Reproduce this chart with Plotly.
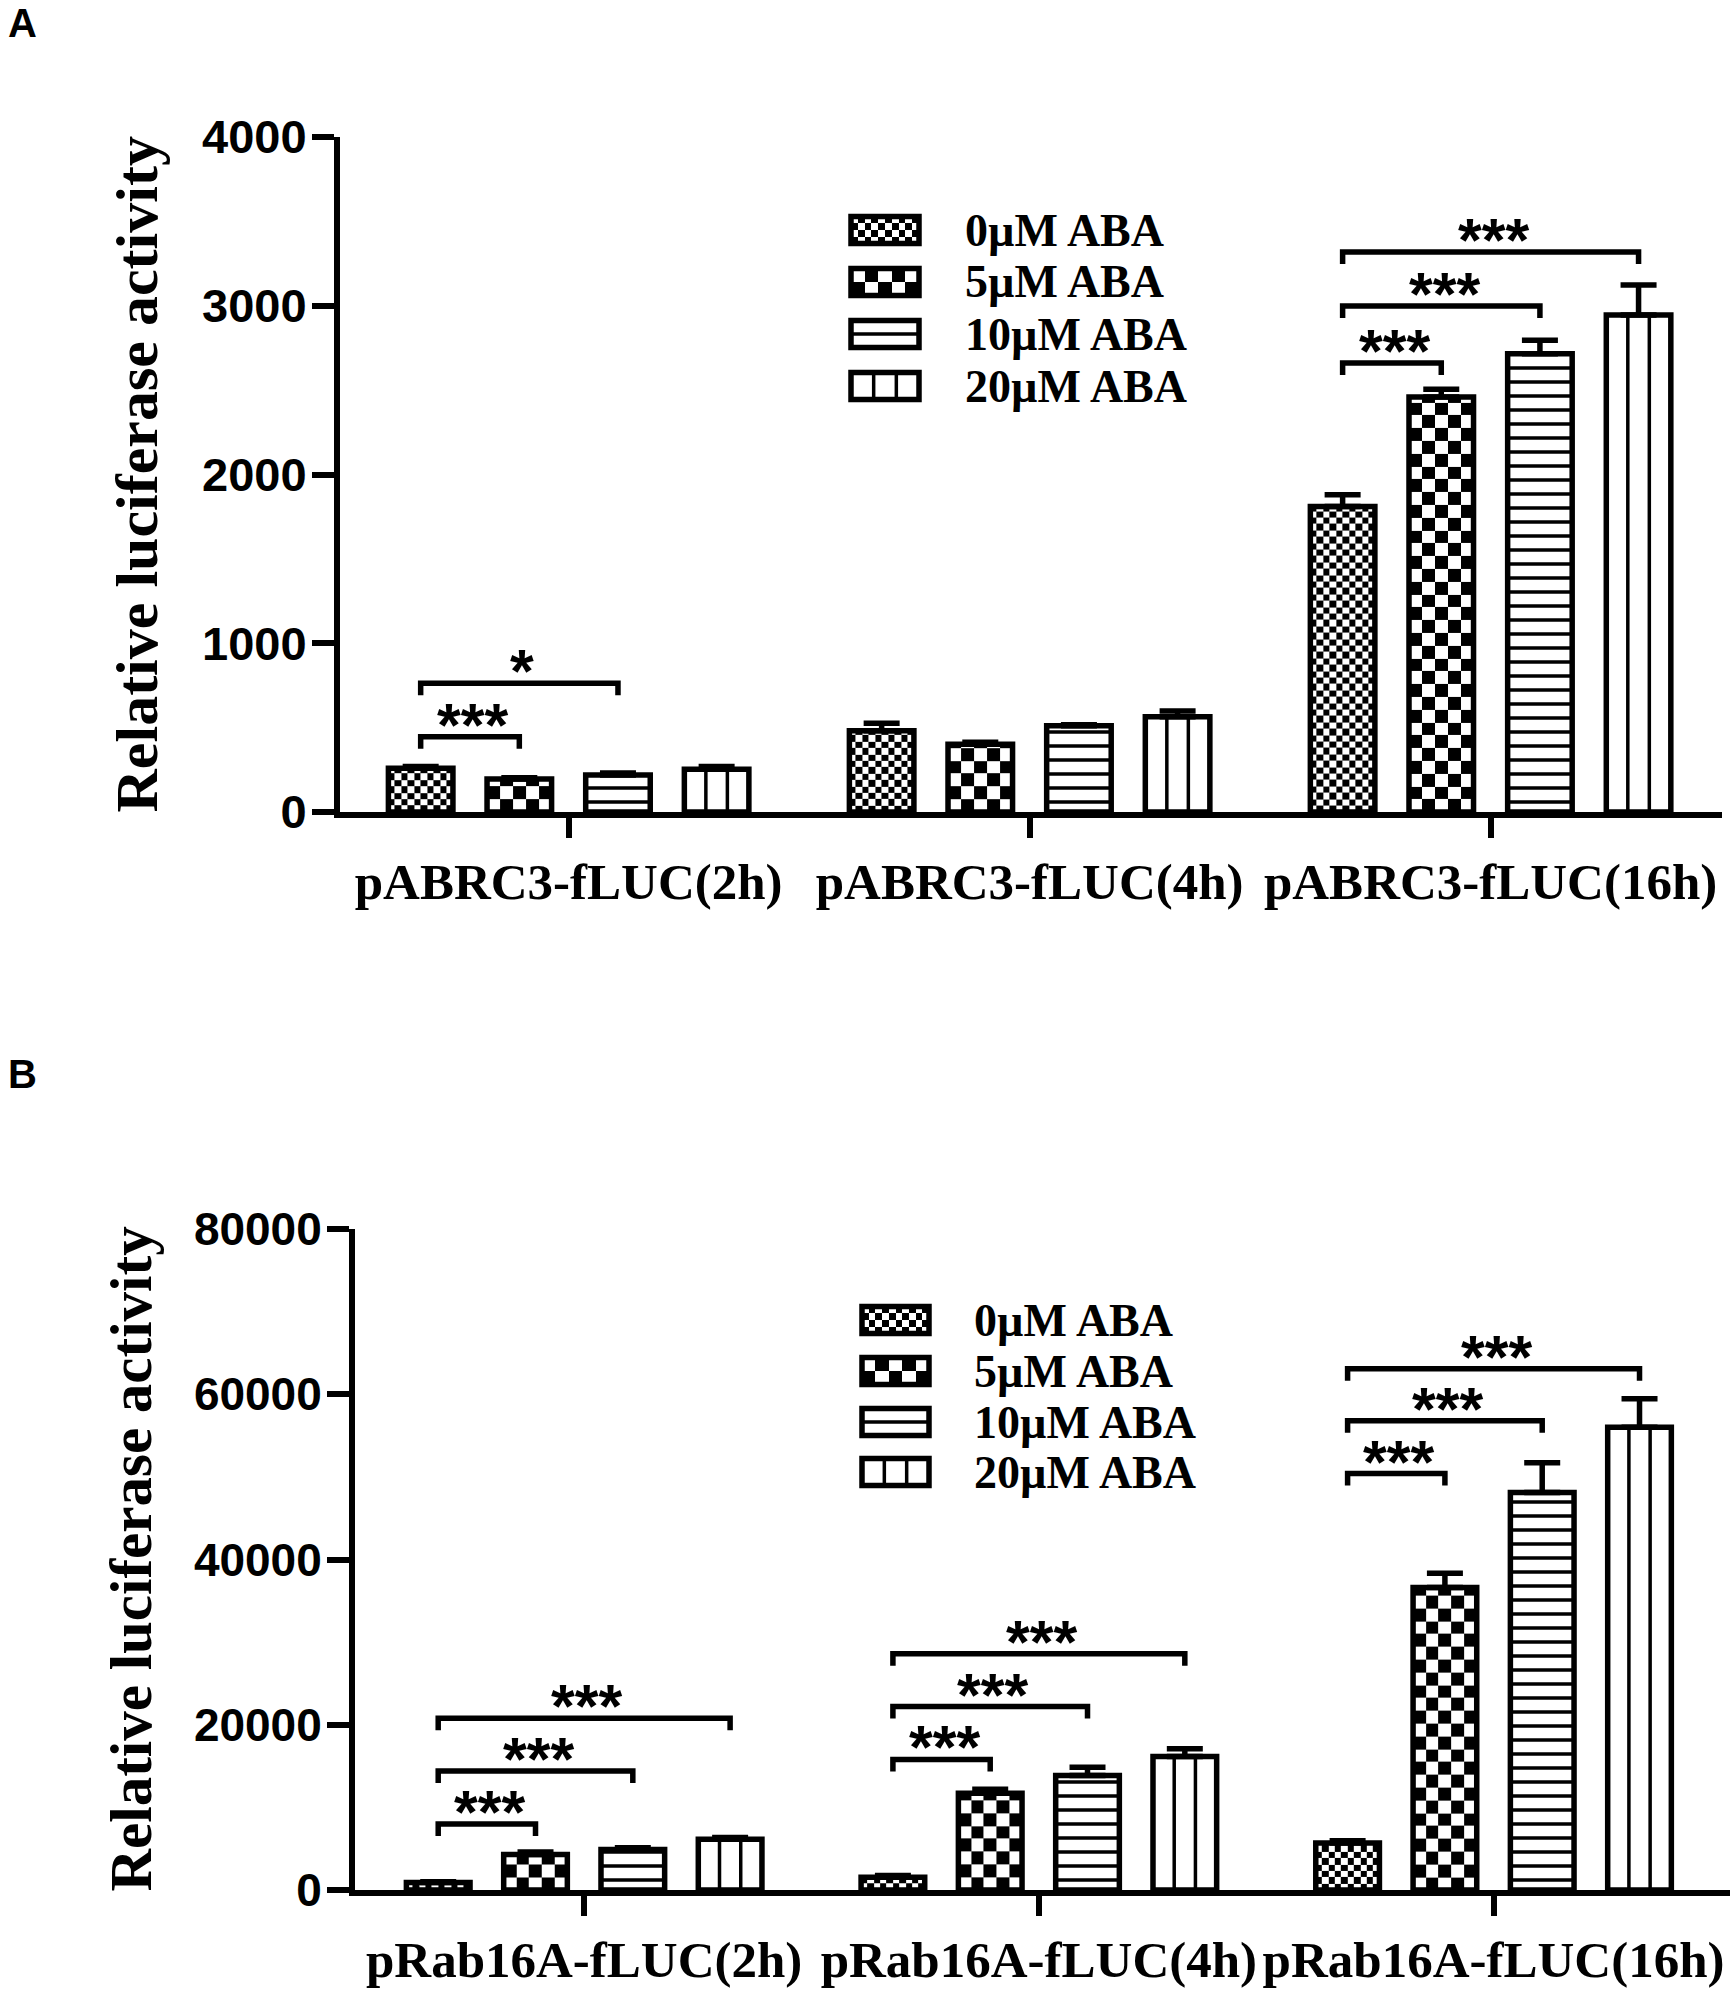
import plotly.graph_objects as go

W, H = 1733, 1996

# ---------------- data ----------------
groups_A = ["pABRC3-fLUC(2h)", "pABRC3-fLUC(4h)", "pABRC3-fLUC(16h)"]
groups_B = ["pRab16A-fLUC(2h)", "pRab16A-fLUC(4h)", "pRab16A-fLUC(16h)"]
series_names = ["0\u00b5M ABA", "5\u00b5M ABA", "10\u00b5M ABA", "20\u00b5M ABA"]

A_0 = [260, 481, 1810]
A_5 = [195, 402, 2460]
A_10 = [219, 511, 2715]
A_20 = [254, 564, 2945]
A_0_err = [10, 45, 70]
A_5_err = [8, 12, 45]
A_10_err = [12, 6, 80]
A_20_err = [15, 35, 178]

B_0 = [900, 1550, 5700]
B_5 = [4300, 11700, 36600]
B_10 = [4900, 13850, 48100]
B_20 = [6150, 16150, 56000]
B_0_err = [100, 200, 250]
B_5_err = [300, 500, 1750]
B_10_err = [200, 1000, 3600]
B_20_err = [200, 950, 3450]

yticks_A = [0, 1000, 2000, 3000, 4000]
yticks_B = [0, 20000, 40000, 60000, 80000]

# significance brackets: (group, series i, series j, bracket height, label)
sig_A = [(0, 0, 1, 446, "***"), (0, 0, 2, 763, "*"),
         (2, 0, 1, 2661, "***"), (2, 0, 2, 2999, "***"), (2, 0, 3, 3319, "***")]
sig_B = [(0, 0, 1, 8000, "***"), (0, 0, 2, 14400, "***"), (0, 0, 3, 20800, "***"),
         (1, 0, 1, 15800, "***"), (1, 0, 2, 22200, "***"), (1, 0, 3, 28600, "***"),
         (2, 0, 1, 50400, "***"), (2, 0, 2, 56800, "***"), (2, 0, 3, 63100, "***")]

# ---------------- layout constants (pixels) ----------------
SLOT = 0.214      # distance between bars inside a group (x units)
BARW = 0.14       # bar width (x units)
LW = 5.5          # bar outline width
AXLW = 6          # axis line width

panels = [
    dict(name="A", xa="x", ya="y", x0=340, x1=1722, ytop=137, ybot=812,
         xr=(-0.496, 2.502), ymax=4000, yticks=yticks_A, groups=groups_A,
         vals=[A_0, A_5, A_10, A_20], errs=[A_0_err, A_5_err, A_10_err, A_20_err],
         sig=sig_A, ytick_size=47, title_x=136, title_size=60,
         label_xy=(22, 23),
         leg=dict(xa="x3", ya="y3", box=(838, 932, 195, 415), xc=885, w=68,
                  rows=[230, 282, 334, 386], tx=963)),
    dict(name="B", xa="x2", ya="y2", x0=355, x1=1730, ytop=1229, ybot=1890,
         xr=(-0.504, 2.52), ymax=80000, yticks=yticks_B, groups=groups_B,
         vals=[B_0, B_5, B_10, B_20], errs=[B_0_err, B_5_err, B_10_err, B_20_err],
         sig=sig_B, ytick_size=46, title_x=130, title_size=59,
         label_xy=(22, 1074),
         leg=dict(xa="x4", ya="y4", box=(848, 942, 1285, 1505), xc=895.5, w=67,
                  rows=[1320, 1371, 1422, 1472], tx=972)),
]

SERIF = "Liberation Serif, Times New Roman, serif"
SANS = "Liberation Sans, Arial, sans-serif"

fig = go.Figure()
shapes = []
annotations = []


def checker(x_left, x_right, y_lo, y_hi, ncol, cell_h, xa, ya):
    xe = [x_left + k * (x_right - x_left) / ncol for k in range(ncol + 1)]
    ye = [y_lo]
    while ye[-1] + cell_h < y_hi - 1e-9:
        ye.append(ye[-1] + cell_h)
    ye.append(y_hi)
    z = [[(r + k) % 2 for k in range(ncol)] for r in range(len(ye) - 1)]
    return go.Heatmap(x=xe, y=ye, z=z, colorscale=[[0, "white"], [1, "black"]],
                      zmin=0, zmax=1, showscale=False, hoverinfo="skip",
                      xaxis=xa, yaxis=ya)


for p in panels:
    ppx = (p["x1"] - p["x0"]) / (p["xr"][1] - p["xr"][0])
    ppy = (p["ybot"] - p["ytop"]) / p["ymax"]
    xa, ya = p["xa"], p["ya"]
    cell_px = {0: 6.4, 1: 12.8}
    for s in range(4):
        vals = p["vals"][s]
        errs = p["errs"][s]
        xs = [g + (s - 1.5) * SLOT for g in range(3)]
        if s in (0, 1):
            ncol = 10 if s == 0 else 5
            for xc, v in zip(xs, vals):
                fig.add_trace(checker(xc - BARW / 2, xc + BARW / 2, 0, v, ncol,
                                      cell_px[s] / ppy, xa, ya))
            marker = dict(color="rgba(0,0,0,0)", line=dict(color="black", width=LW))
        elif s == 2:
            marker = dict(color="white", line=dict(color="black", width=LW),
                          pattern=dict(shape="-", size=14, solidity=0.25,
                                       fgcolor="black", bgcolor="white"))
        else:
            marker = dict(color="white", line=dict(color="black", width=LW))
        fig.add_trace(go.Bar(
            x=xs, y=vals, width=BARW, marker=marker, name=series_names[s],
            error_y=dict(type="data", array=errs, arrayminus=[0] * len(errs),
                         symmetric=False, thickness=5.5, width=18, color="black"),
            xaxis=xa, yaxis=ya, hoverinfo="skip"))
        if s == 3:
            lx, ly = [], []
            for xc, v in zip(xs, vals):
                for dx in (-BARW / 6, BARW / 6):
                    lx += [xc + dx, xc + dx, None]
                    ly += [0, v, None]
            fig.add_trace(go.Scatter(x=lx, y=ly, mode="lines",
                                     line=dict(color="black", width=3.5),
                                     xaxis=xa, yaxis=ya, hoverinfo="skip"))

    # significance brackets
    leg_units = 12 / ppy
    for g, i, j, hgt, lab in p["sig"]:
        xi = g + (i - 1.5) * SLOT
        xj = g + (j - 1.5) * SLOT
        shapes.append(dict(type="path", xref=xa, yref=ya,
                           path=f"M {xi},{hgt - leg_units} L {xi},{hgt} L {xj},{hgt} L {xj},{hgt - leg_units}",
                           line=dict(color="black", width=5.5)))
        annotations.append(dict(x=(xi + xj) / 2 + 0.006, y=hgt, xref=xa, yref=ya,
                                text=lab, showarrow=False, yanchor="middle",
                                yshift=12, font=dict(family=SANS, size=61, color="black",
                                                     weight="bold")))

    # axis title & panel label
    annotations.append(dict(x=p["title_x"] / W, y=1 - (p["ytop"] + p["ybot"]) / 2 / H,
                            xref="paper", yref="paper", text="Relative luciferase activity",
                            textangle=-90, showarrow=False, xanchor="center", yanchor="middle",
                            font=dict(family=SERIF, size=p["title_size"], color="black",
                                      weight="bold")))
    annotations.append(dict(x=p["label_xy"][0] / W, y=1 - p["label_xy"][1] / H,
                            xref="paper", yref="paper", text=p["name"], showarrow=False,
                            xanchor="center", yanchor="middle",
                            font=dict(family=SANS, size=40, color="black", weight="bold")))

    # custom legend
    L = p["leg"]
    half_w = L["w"] / 2
    ph = 27
    for s, r in enumerate(L["rows"]):
        if s in (0, 1):
            ncol, nrow = (10, 4) if s == 0 else (5, 2)
            fig.add_trace(checker(L["xc"] - half_w, L["xc"] + half_w, r - ph / 2, r + ph / 2,
                                  ncol, ph / nrow, L["xa"], L["ya"]))
            col = "rgba(0,0,0,0)"
        else:
            col = "white"
        fig.add_trace(go.Bar(x=[L["xc"]], y=[ph], base=[r - ph / 2], width=L["w"],
                             marker=dict(color=col, line=dict(color="black", width=LW)),
                             xaxis=L["xa"], yaxis=L["ya"], hoverinfo="skip"))
        if s == 2:
            fig.add_trace(go.Scatter(x=[L["xc"] - half_w, L["xc"] + half_w], y=[r, r],
                                     mode="lines", line=dict(color="black", width=3.5),
                                     xaxis=L["xa"], yaxis=L["ya"], hoverinfo="skip"))
        if s == 3:
            lx, ly = [], []
            for dx in (-L["w"] / 6, L["w"] / 6):
                lx += [L["xc"] + dx, L["xc"] + dx, None]
                ly += [r - ph / 2, r + ph / 2, None]
            fig.add_trace(go.Scatter(x=lx, y=ly, mode="lines",
                                     line=dict(color="black", width=3.5),
                                     xaxis=L["xa"], yaxis=L["ya"], hoverinfo="skip"))
        annotations.append(dict(x=L["tx"] / W, y=1 - r / H, xref="paper", yref="paper",
                                text=series_names[s], showarrow=False, xanchor="left",
                                yanchor="middle",
                                font=dict(family=SERIF, size=46, color="black", weight="bold")))

layout_axes = {}
for p in panels:
    xk = "xaxis" if p["xa"] == "x" else "xaxis" + p["xa"][1:]
    yk = "yaxis" if p["ya"] == "y" else "yaxis" + p["ya"][1:]
    layout_axes[xk] = dict(
        domain=[p["x0"] / W, p["x1"] / W], range=list(p["xr"]), anchor=p["ya"],
        showline=True, linecolor="black", linewidth=AXLW, showgrid=False, zeroline=False,
        ticks="outside", ticklen=20, tickwidth=5.5, tickcolor="black",
        tickvals=[0, 1, 2], ticktext=p["groups"], automargin=False, fixedrange=True,
        tickfont=dict(family=SERIF, size=51, color="black", weight="bold"))
    layout_axes[yk] = dict(
        domain=[1 - p["ybot"] / H, 1 - p["ytop"] / H], range=[0, p["ymax"]], anchor=p["xa"],
        showline=True, linecolor="black", linewidth=AXLW, showgrid=False, zeroline=False,
        ticks="outside", ticklen=22, tickwidth=5.5, tickcolor="black",
        tickvals=p["yticks"], ticktext=[str(v) for v in p["yticks"]], automargin=False,
        fixedrange=True, ticklabelstandoff=-4,
        tickfont=dict(family=SANS, size=p["ytick_size"], color="black", weight="bold"))
    L = p["leg"]
    bx0, bx1, by0, by1 = L["box"]
    lxk = "xaxis" + L["xa"][1:]
    lyk = "yaxis" + L["ya"][1:]
    layout_axes[lxk] = dict(domain=[bx0 / W, bx1 / W], range=[bx0, bx1], anchor=L["ya"],
                            visible=False, fixedrange=True)
    layout_axes[lyk] = dict(domain=[1 - by1 / H, 1 - by0 / H], range=[by1, by0],
                            anchor=L["xa"], visible=False, fixedrange=True)

fig.update_layout(
    width=W, height=H, template="none", barmode="overlay", showlegend=False,
    margin=dict(l=0, r=0, t=0, b=0), paper_bgcolor="white", plot_bgcolor="white",
    shapes=shapes, annotations=annotations, **layout_axes)

fig.write_html("out.html", config={"displayModeBar": False},
               post_script="document.body.style.margin='0';document.body.style.padding='0';")
